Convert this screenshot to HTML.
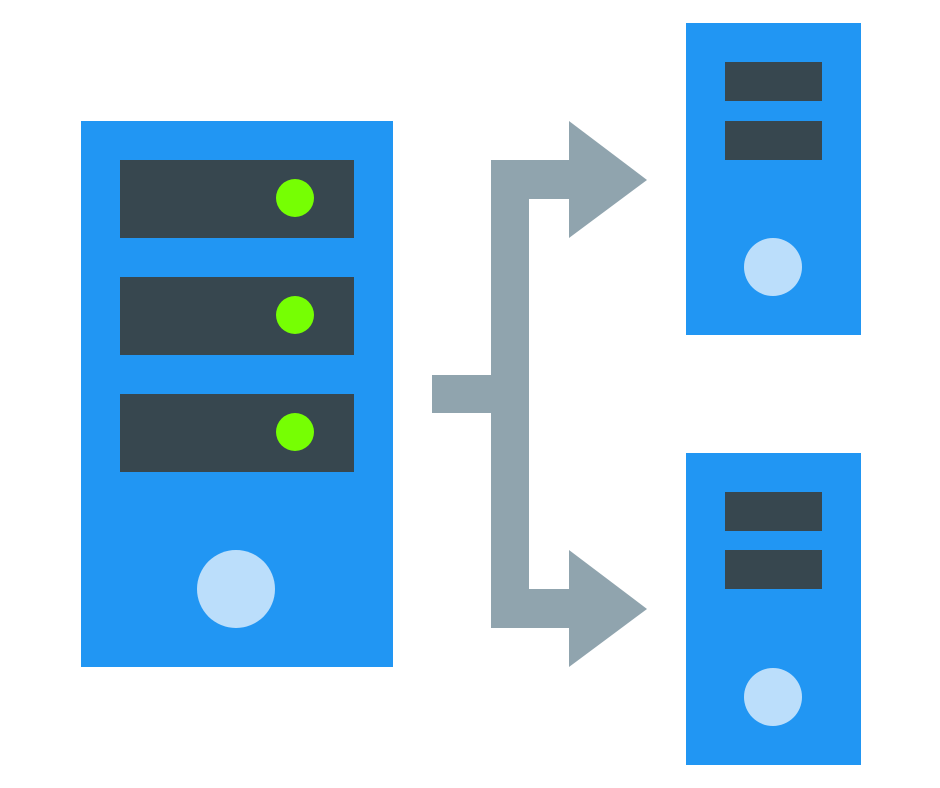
<!DOCTYPE html>
<html><head><meta charset="utf-8"><style>html,body{margin:0;padding:0;background:#fff}svg{display:block}</style></head>
<body>
<svg width="940" height="788" viewBox="0 0 940 788" xmlns="http://www.w3.org/2000/svg">
<rect x="81" y="121" width="312" height="546" fill="#2196F3"/>
<rect x="120" y="160" width="234" height="78" fill="#37474F"/>
<rect x="120" y="277" width="234" height="78" fill="#37474F"/>
<rect x="120" y="394" width="234" height="78" fill="#37474F"/>
<circle cx="295" cy="198" r="19" fill="#76FF03"/>
<circle cx="295" cy="315" r="19" fill="#76FF03"/>
<circle cx="295" cy="432" r="19" fill="#76FF03"/>
<circle cx="236" cy="589" r="39" fill="#BBDEFB"/>
<g fill="#90A4AE">
<rect x="432" y="375" width="60" height="38"/>
<rect x="491" y="160" width="38" height="468"/>
<rect x="491" y="160" width="80" height="39"/>
<rect x="491" y="589" width="80" height="39"/>
<polygon points="569,121 647,180 569,238"/>
<polygon points="569,550 647,609 569,667"/>
</g>
<rect x="686" y="23" width="175" height="312" fill="#2196F3"/>
<rect x="725" y="62" width="97" height="39" fill="#37474F"/>
<rect x="725" y="121" width="97" height="39" fill="#37474F"/>
<circle cx="773" cy="267" r="29" fill="#BBDEFB"/>
<rect x="686" y="453" width="175" height="312" fill="#2196F3"/>
<rect x="725" y="492" width="97" height="39" fill="#37474F"/>
<rect x="725" y="550" width="97" height="39" fill="#37474F"/>
<circle cx="773" cy="697" r="29" fill="#BBDEFB"/>
</svg>
</body></html>
